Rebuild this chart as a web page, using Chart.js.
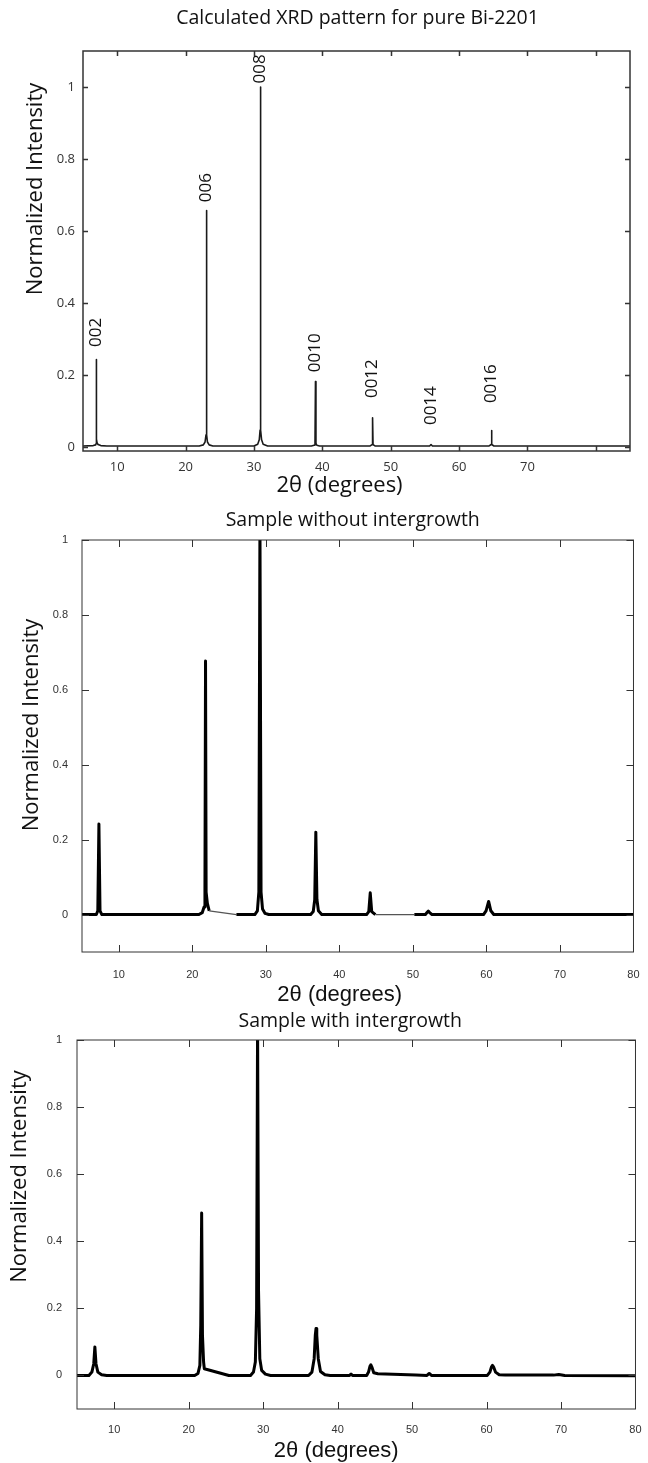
<!DOCTYPE html>
<html>
<head>
<meta charset="utf-8">
<title>Bi-2201 XRD patterns</title>
<script src="https://cdn.jsdelivr.net/npm/chart.js@4.4.0/dist/chart.umd.min.js"></script>
<style>
    html, body { margin: 0; padding: 0; background: #fff; }
    body { width: 648px; height: 1463px; position: relative; overflow: hidden; }
    .panel { position: absolute; left: 0; }
</style>
</head>
<body>
<div class="panel" style="top:0;width:648px;height:500px"><canvas id="calcChart"></canvas></div>
<div class="panel" style="top:500px;width:656px;height:508px"><canvas id="noIgChart"></canvas></div>
<div class="panel" style="top:1000px;width:656px;height:463px"><canvas id="igChart"></canvas></div>

<script>
// ============================================================
// XRD patterns of Bi-2201: calculated, and two real samples
// ============================================================

// ----- Axis ticks -----
const xTicks = [10, 20, 30, 40, 50, 60, 70, 80];
const yTicks = [0, 0.2, 0.4, 0.6, 0.8, 1];

// ----- Calculated pattern (2theta, normalized intensity) -----
const calcX = [5, 6.5, 6.85, 6.92, 6.95, 6.98, 7.05, 7.2, 7.6, 8.5,
    22.0, 22.6, 22.85, 22.99, 23.05, 23.11, 23.2, 23.45, 24.0,
    30.0, 30.55, 30.78, 30.9, 30.95, 31.0, 31.12, 31.35, 32.0,
    38.4, 38.8, 38.93, 39.0, 39.07, 39.2, 39.6,
    47.0, 47.28, 47.35, 47.42, 47.7,
    55.7, 55.9, 56.1,
    64.4, 64.7, 64.75, 64.8, 65.1, 85];
const calcY = [0.003, 0.004, 0.006, 0.01, 0.243, 0.022, 0.012, 0.007, 0.004, 0.003,
    0.003, 0.006, 0.014, 0.034, 0.657, 0.034, 0.014, 0.006, 0.003,
    0.003, 0.008, 0.02, 0.047, 1.0, 0.047, 0.02, 0.008, 0.003,
    0.003, 0.005, 0.01, 0.182, 0.01, 0.005, 0.003,
    0.003, 0.007, 0.081, 0.007, 0.003,
    0.003, 0.007, 0.003,
    0.003, 0.007, 0.046, 0.007, 0.003, 0.003];

// hkl labels of the calculated peaks
const hklNames = ['002', '006', '008', '0010', '0012', '0014', '0016'];
const hklPos = [6.95, 23.05, 30.95, 39.0, 47.35, 55.9, 64.75];
const hklLabelY = [0.278, 0.68, 1.01, 0.208, 0.136, 0.061, 0.122];

// ----- Sample without intergrowth -----
const noIgX = [5, 6.95, 7.15, 7.3, 7.45, 7.7,
    20.9, 21.35, 21.6, 21.72, 21.8, 21.88, 22.05, 22.3,
    26.0, 28.5, 28.85, 29.05, 29.2, 29.35, 29.55, 29.9, 30.4,
    36.1, 36.45, 36.65, 36.8, 36.95, 37.15, 37.6,
    43.7, 44.0, 44.2, 44.4, 44.9,
    50.2, 51.7, 51.95, 52.1, 52.25, 52.6,
    59.6, 59.95, 60.3, 60.6, 61.0, 80];
const noIgY = [0, 0, 0.01, 0.242, 0.01, 0,
    0, 0.005, 0.02, 0.07, 0.677, 0.06, 0.03, 0.01,
    0, 0, 0.01, 0.06, 1.05, 0.06, 0.015, 0.003, 0,
    0, 0.008, 0.04, 0.22, 0.04, 0.01, 0,
    0, 0.008, 0.058, 0.008, 0,
    0, 0, 0.006, 0.009, 0.006, 0,
    0, 0.01, 0.035, 0.01, 0, 0];
// segments starting at these angles are thin straight fills over gaps in the scan
const noIgGapStarts = [22.3, 44.9];

// ----- Sample with intergrowth -----
const igX = [5, 6.6, 7.0, 7.25, 7.4, 7.55, 7.8, 8.3, 9.0,
    20.8, 21.25, 21.5, 21.62, 21.74, 21.85, 22.0, 22.1,
    25.4, 28.3, 28.7, 28.95, 29.12, 29.25, 29.38, 29.55, 29.8, 30.3, 31.0,
    36.1, 36.55, 36.85, 37.0, 37.1, 37.2, 37.4, 37.7, 38.3, 39.0,
    41.6, 41.8, 42.0,
    43.9, 44.15, 44.35, 44.45, 44.6, 44.85, 45.4, 50.5,
    52.0, 52.3, 52.6,
    60.1, 60.45, 60.65, 60.8, 60.95, 61.2, 61.7, 62.5,
    69.0, 69.7, 70.5, 80];
const igY = [0, 0, 0.01, 0.035, 0.085, 0.035, 0.01, 0.002, 0,
    0, 0.006, 0.03, 0.15, 0.484, 0.12, 0.04, 0.02,
    0, 0, 0.01, 0.04, 0.2, 1.05, 0.25, 0.05, 0.015, 0.004, 0,
    0, 0.01, 0.05, 0.12, 0.14, 0.12, 0.05, 0.012, 0.002, 0,
    0, 0.004, 0,
    0, 0.01, 0.028, 0.032, 0.025, 0.008, 0.005, 0.001,
    0, 0.006, 0,
    0, 0.01, 0.025, 0.03, 0.025, 0.01, 0.002, 0.001,
    0.001, 0.003, 0, -0.001];

// ----- Helpers -----
function toPoints(xs, ys) {
    return xs.map(function (x, i) { return { x: x, y: ys[i] }; });
}

function yLabel(v) {
    return String(+v.toFixed(1));
}

function drawText(ctx, text, x, y, font, rotate) {
    ctx.save();
    ctx.translate(x, y);
    if (rotate) ctx.rotate(-Math.PI / 2);
    ctx.font = font;
    ctx.fillStyle = '#111';
    ctx.textAlign = 'center';
    ctx.textBaseline = 'middle';
    ctx.fillText(text, 0, 0);
    ctx.restore();
}

// Box around the plot with inward ticks on all four sides (MATLAB look)
const framePlugin = {
    id: 'frame',
    afterDraw(chart, args, opts) {
        const { ctx, chartArea: a, scales } = chart;
        const L = opts.tick;
        ctx.save();
        ctx.strokeStyle = opts.color;
        ctx.lineWidth = opts.width;
        ctx.strokeRect(a.left, a.top, a.right - a.left, a.bottom - a.top);
        ctx.beginPath();
        scales.x.ticks.forEach(function (t) {
            const px = Math.round(scales.x.getPixelForValue(t.value)) + 0.5;
            ctx.moveTo(px, a.bottom); ctx.lineTo(px, a.bottom - L);
            ctx.moveTo(px, a.top); ctx.lineTo(px, a.top + L);
        });
        scales.y.ticks.forEach(function (t) {
            const py = Math.round(scales.y.getPixelForValue(t.value)) + 0.5;
            ctx.moveTo(a.left, py); ctx.lineTo(a.left + L, py);
            ctx.moveTo(a.right, py); ctx.lineTo(a.right - L, py);
        });
        ctx.stroke();
        ctx.restore();
    }
};

// Panel title, x title and rotated y title, placed from the plot area
const textsPlugin = {
    id: 'texts',
    afterDraw(chart, args, o) {
        const { ctx, chartArea: a } = chart;
        const cx = (a.left + a.right) / 2;
        const cy = (a.top + a.bottom) / 2;
        drawText(ctx, o.title, cx + o.titleDx, o.titleY, o.titleFont, false);
        drawText(ctx, '2θ (degrees)', cx + o.xTitleDx, o.xTitleY, o.xTitleFont, false);
        drawText(ctx, 'Normalized Intensity', o.yTitleX, cy + o.yTitleDy, o.yTitleFont, true);
    }
};

// hkl labels written vertically above each calculated peak
const hklPlugin = {
    id: 'hkl',
    afterDatasetsDraw(chart) {
        const { ctx, scales: { x, y } } = chart;
        ctx.save();
        ctx.font = '17px "Open Sans", sans-serif';
        ctx.fillStyle = '#111';
        ctx.textAlign = 'left';
        ctx.textBaseline = 'middle';
        hklNames.forEach(function (name, i) {
            ctx.save();
            ctx.translate(x.getPixelForValue(hklPos[i]), y.getPixelForValue(hklLabelY[i]));
            ctx.rotate(-Math.PI / 2);
            ctx.fillText(name, 0, 0);
            ctx.restore();
        });
        ctx.restore();
    }
};

function fixTicks(values) {
    return function (scale) {
        scale.ticks = values.map(function (v) { return { value: v }; });
    };
}

// Builds one panel; cfg holds the per-panel layout numbers
function drawPattern(canvasId, points, cfg) {
    const ctx = document.getElementById(canvasId).getContext('2d');
    return new Chart(ctx, {
        type: 'line',
        data: {
            datasets: [{
                data: points,
                borderColor: cfg.lineColor,
                borderWidth: cfg.lineWidth,
                borderJoinStyle: 'round',
                pointRadius: 0,
                tension: 0,
                fill: false,
                segment: cfg.segment || {}
            }]
        },
        plugins: cfg.extraPlugins || [],
        options: {
            responsive: true,
            maintainAspectRatio: false,
            animation: false,
            devicePixelRatio: 1,
            layout: { padding: { left: 0, right: cfg.padRight, top: cfg.padTop, bottom: 0 } },
            plugins: {
                legend: { display: false },
                tooltip: { enabled: false },
                title: { display: false },
                frame: { color: '#333', width: cfg.frameWidth, tick: cfg.tickLen },
                texts: cfg.texts
            },
            scales: {
                x: {
                    type: 'linear',
                    min: cfg.xMin,
                    max: cfg.xMax,
                    afterBuildTicks: fixTicks(xTicks),
                    afterFit: function (s) { s.height = cfg.xAxisHeight; },
                    border: { display: false },
                    grid: { display: false, drawTicks: false },
                    ticks: {
                        autoSkip: false,
                        maxRotation: 0,
                        padding: cfg.xTickPad,
                        color: '#333',
                        font: cfg.tickFont,
                        callback: function (v) { return cfg.hideTick80 && v === 80 ? '' : String(v); }
                    }
                },
                y: {
                    min: cfg.yMin,
                    max: cfg.yMax,
                    afterBuildTicks: fixTicks(yTicks),
                    afterFit: function (s) { s.width = cfg.yAxisWidth; },
                    border: { display: false },
                    grid: { display: false, drawTicks: false },
                    ticks: {
                        padding: cfg.yTickPad,
                        color: '#333',
                        font: cfg.tickFont,
                        callback: yLabel
                    }
                }
            }
        }
    });
}

Chart.register(framePlugin, textsPlugin);

// ----- Calculated pattern -----
drawPattern('calcChart', toPoints(calcX, calcY), {
    padTop: 51, padRight: 18,
    lineColor: '#1a1a1a', lineWidth: 1.6,
    frameWidth: 1.5, tickLen: 5,
    xMin: 5, xMax: 85, yMin: -0.011, yMax: 1.1,
    xAxisHeight: 49, yAxisWidth: 83,
    xTickPad: 8.5, yTickPad: 8,
    tickFont: { family: 'Open Sans', size: 13 },
    hideTick80: true,
    texts: {
        title: 'Calculated XRD pattern for pure Bi-2201',
        titleFont: '19.5px "Open Sans", sans-serif', titleY: 18, titleDx: 1,
        xTitleFont: '22px "Open Sans", sans-serif', xTitleY: 486, xTitleDx: -17,
        yTitleFont: '22px "Open Sans", sans-serif', yTitleX: 36, yTitleDy: -62
    },
    extraPlugins: [hklPlugin]
});

// ----- Sample without intergrowth -----
drawPattern('noIgChart', toPoints(noIgX, noIgY), {
    padTop: 40, padRight: 5,
    lineColor: '#000', lineWidth: 3,
    frameWidth: 1, tickLen: 7,
    xMin: 5, xMax: 80, yMin: -0.1, yMax: 1,
    xAxisHeight: 56, yAxisWidth: 82,
    xTickPad: 16.4, yTickPad: 14,
    tickFont: { family: 'Liberation Sans', size: 11 },
    texts: {
        title: 'Sample without intergrowth',
        titleFont: '19.5px "Open Sans", sans-serif', titleY: 20, titleDx: -5,
        xTitleFont: '22px "Liberation Sans", sans-serif', xTitleY: 495, xTitleDx: -18,
        yTitleFont: '22px "Open Sans", sans-serif', yTitleX: 32, yTitleDy: -21
    },
    segment: {
        borderWidth: function (c) { return noIgGapStarts.includes(c.p0.parsed.x) ? 1.2 : 3; },
        borderColor: function (c) { return noIgGapStarts.includes(c.p0.parsed.x) ? '#555' : '#000'; }
    }
});

// ----- Sample with intergrowth -----
drawPattern('igChart', toPoints(igX, igY), {
    padTop: 40, padRight: 5,
    lineColor: '#000', lineWidth: 3,
    frameWidth: 1, tickLen: 7,
    xMin: 5, xMax: 80, yMin: -0.1, yMax: 1,
    xAxisHeight: 54, yAxisWidth: 77,
    xTickPad: 14.4, yTickPad: 15,
    tickFont: { family: 'Liberation Sans', size: 11 },
    texts: {
        title: 'Sample with intergrowth',
        titleFont: '19.5px "Open Sans", sans-serif', titleY: 21, titleDx: -6,
        xTitleFont: '22px "Liberation Sans", sans-serif', xTitleY: 451, xTitleDx: -20,
        yTitleFont: '22px "Open Sans", sans-serif', yTitleX: 20, yTitleDy: -48
    }
});
</script>
</body>
</html>
